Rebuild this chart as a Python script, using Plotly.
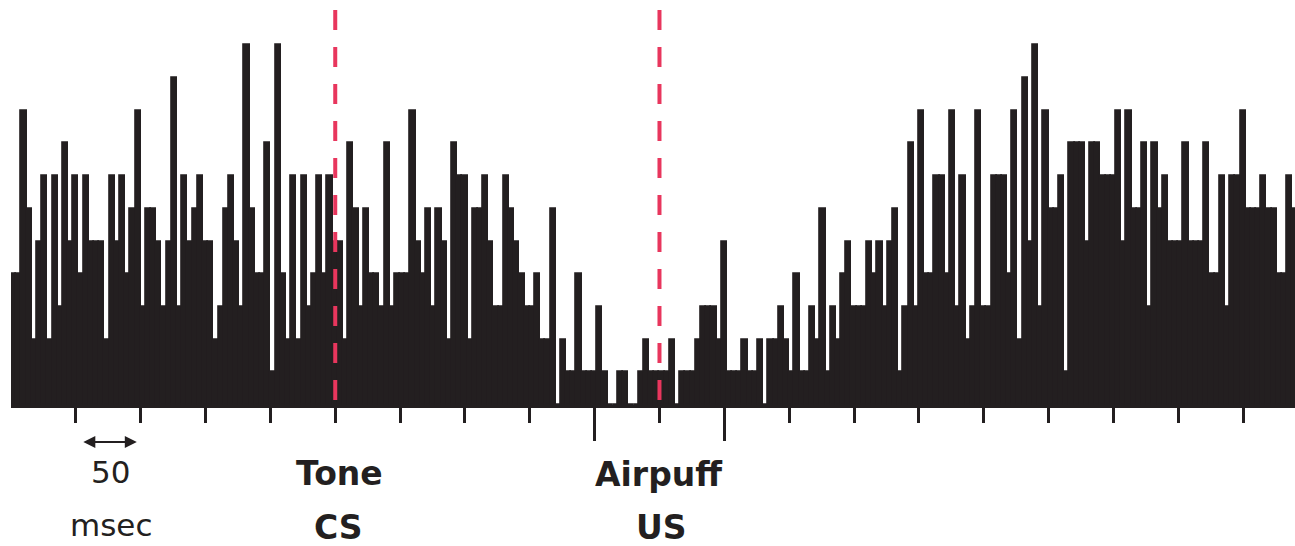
import plotly.graph_objects as go

# Time bins (ms relative to Tone CS onset), 4 ms wide
bin_width_ms = 4
bin_start_ms = list(range(-250, 742, bin_width_ms))

# Spike counts per bin
counts = [
    4, 4, 9, 6, 2, 5, 7, 2, 7, 3,
    8, 5, 7, 4, 7, 5, 5, 5, 2, 7,
    5, 7, 4, 6, 9, 3, 6, 6, 5, 3,
    5, 10, 3, 7, 5, 6, 7, 5, 5, 2,
    3, 6, 7, 5, 3, 11, 6, 4, 4, 8,
    1, 11, 4, 2, 7, 2, 7, 3, 4, 7,
    4, 7, 5, 5, 2, 8, 6, 3, 6, 4,
    4, 3, 8, 3, 4, 4, 4, 9, 5, 4,
    6, 3, 6, 5, 2, 8, 7, 7, 2, 6,
    6, 7, 5, 3, 3, 7, 6, 5, 4, 3,
    3, 4, 2, 2, 6, 0, 2, 1, 1, 4,
    1, 1, 1, 3, 1, 0, 0, 1, 1, 0,
    0, 1, 2, 1, 1, 1, 1, 2, 0, 1,
    1, 1, 2, 3, 3, 3, 2, 5, 1, 1,
    1, 2, 1, 1, 2, 0, 2, 2, 3, 2,
    1, 4, 1, 1, 3, 2, 6, 1, 3, 2,
    4, 5, 3, 3, 3, 5, 4, 5, 3, 5,
    6, 1, 3, 8, 3, 9, 4, 4, 7, 7,
    4, 9, 3, 7, 2, 3, 9, 3, 3, 7,
    7, 7, 4, 9, 2, 10, 5, 11, 3, 9,
    6, 6, 7, 1, 8, 8, 8, 5, 8, 8,
    7, 7, 7, 9, 5, 9, 6, 6, 8, 3,
    8, 6, 7, 5, 5, 5, 8, 5, 5, 5,
    8, 4, 4, 7, 3, 7, 7, 9, 6, 6,
    6, 7, 6, 6, 4, 4, 7, 6,
]

tick_ms = [-200, -150, -100, -50, 0, 50, 100, 150, 200, 250,
           300, 350, 400, 450, 500, 550, 600, 650, 700]
long_tick_ms = [200, 300]
tone_cs_ms = 0
airpuff_us_ms = 250

INK = "#231f20"
RED = "#e8365d"
X_RANGE = [-250, 740]
Y_TOP = 12.385

bin_centers = [b + bin_width_ms / 2 for b in bin_start_ms[:len(counts)]]

fig = go.Figure()
fig.add_trace(go.Bar(
    x=bin_centers, y=counts, width=bin_width_ms,
    marker=dict(color=INK, line=dict(color=INK, width=1.8)),
    hoverinfo="skip", showlegend=False,
))
# helper trace so the long-tick axis is drawn
fig.add_trace(go.Scatter(
    x=[long_tick_ms[0]], y=[0], xaxis="x2", mode="markers",
    marker=dict(opacity=0), hoverinfo="skip", showlegend=False,
))

for t in (tone_cs_ms, airpuff_us_ms):
    fig.add_shape(type="line", xref="x", yref="y",
                  x0=t, x1=t, y0=12.08, y1=0,
                  line=dict(color=RED, width=4, dash="20px,17px"),
                  layer="above")

FONT = "DejaVu Sans"
ann = [
    dict(text="50", x=-173.5, y=-0.1654, size=31, bold=False),
    dict(text="msec", x=-172.7, y=-0.2963, size=31, bold=False),
    dict(text="Tone", x=3.1, y=-0.1691, size=33, bold=True),
    dict(text="CS", x=2.3, y=-0.3025, size=33, bold=True),
    dict(text="Airpuff", x=249.8, y=-0.1716, size=33, bold=True),
    dict(text="US", x=251.3, y=-0.3025, size=33, bold=True),
]
for a in ann:
    fig.add_annotation(
        x=a["x"], y=a["y"], xref="x", yref="paper",
        text=a["text"], showarrow=False,
        xanchor="center", yanchor="middle",
        font=dict(family=FONT, size=a["size"], color=INK,
                  weight="bold" if a["bold"] else "normal"),
    )

# 50 msec scale arrow
fig.add_annotation(
    x=-153, y=-0.0914, xref="x", yref="paper",
    ax=-55, ay=0, text="", showarrow=True,
    arrowside="end+start", arrowhead=2, arrowsize=1.2,
    arrowwidth=2, arrowcolor=INK,
)

fig.update_layout(
    width=1295, height=546,
    margin=dict(l=11, r=0, t=0, b=141),
    paper_bgcolor="white", plot_bgcolor="white",
    bargap=0,
    xaxis=dict(range=X_RANGE, showgrid=False, zeroline=False,
               showline=True, linecolor=INK, linewidth=3,
               ticks="outside", tickvals=tick_ms, ticklen=15,
               tickwidth=3, tickcolor=INK, showticklabels=False),
    xaxis2=dict(range=X_RANGE, overlaying="x", anchor="y", side="bottom",
                showgrid=False, zeroline=False, showline=False,
                ticks="outside", tickvals=long_tick_ms, ticklen=35,
                tickwidth=3, tickcolor=INK, showticklabels=False),
    yaxis=dict(range=[0, Y_TOP], visible=False),
    showlegend=False,
)

fig.write_html(
    "out.html",
    config={"displayModeBar": False},
    post_script="document.body.style.margin='0';document.body.style.overflow='hidden';",
)
